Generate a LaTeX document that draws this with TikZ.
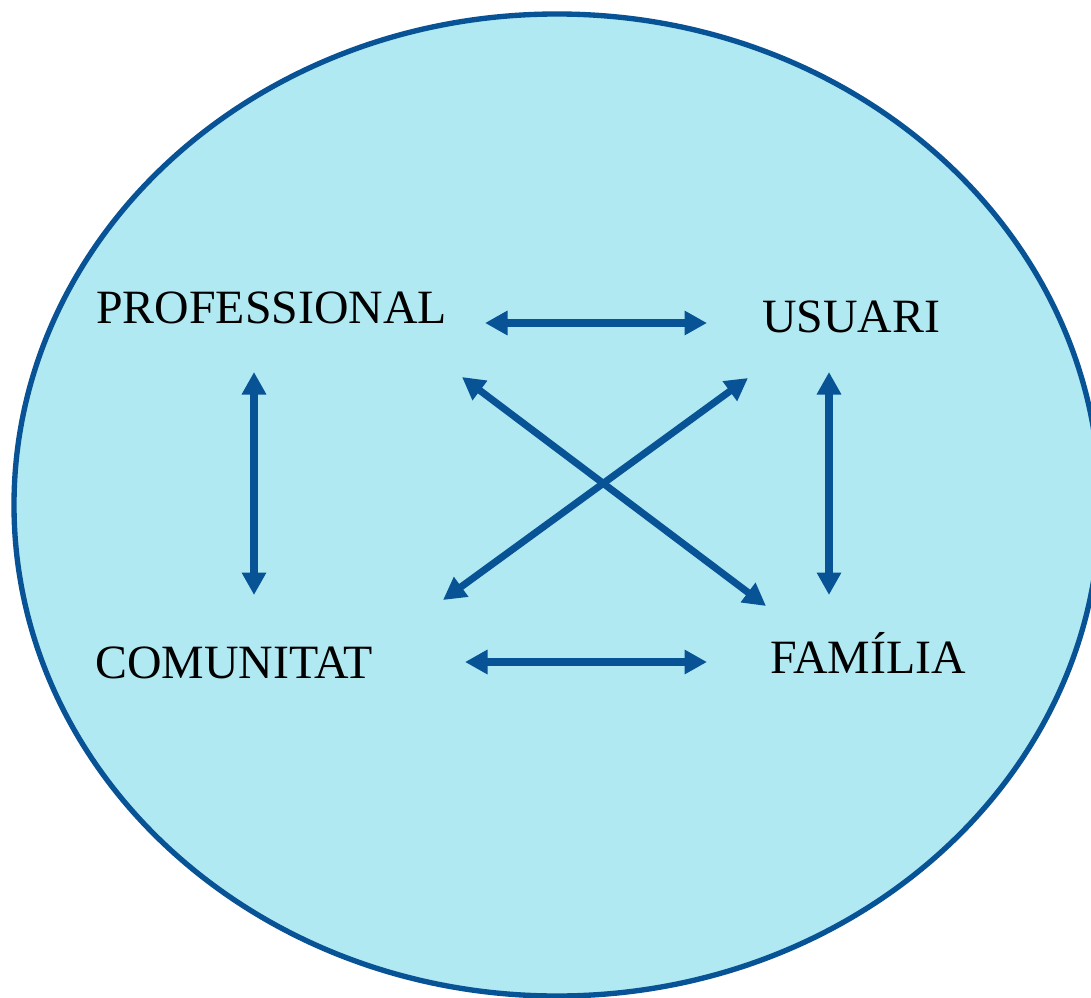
\documentclass[tikz,border=0pt]{standalone}
\usepackage{fontspec}
\setmainfont{Liberation Serif}
\usetikzlibrary{arrows.meta}
\definecolor{bubble}{RGB}{177,233,242}
\definecolor{linkblue}{RGB}{8,82,150}
\tikzset{
  role/.style={anchor=base west, inner sep=0pt, font=\fontsize{34}{40}\selectfont},
  link/.style={linkblue, line width=5pt, {Triangle[length=16pt,width=16.5pt]}-{Triangle[length=16pt,width=16.5pt]}}
}
\begin{document}
\begin{tikzpicture}[x=0.025cm, y=-0.025cm]
    \useasboundingbox (0,0) rectangle (1091,998);
    \clip (0,0) rectangle (1091,998);
    \draw[linkblue, line width=3.8pt, fill=bubble] (557,505) ellipse (543 and 491);

    \node[role] (prof) at (96,323) {PROFESSIONAL};
    \node[role] (usu) at (762,332) {USUARI};
    \node[role] (com) at (95,678) {COMUNITAT};
    \node[role] (fam) at (770,673) {FAMÍLIA};

    \coordinate (prof-r) at (485,323);
    \coordinate (usu-l) at (707,323);
    \coordinate (com-r) at (465,662);
    \coordinate (fam-l) at (707,662);
    \coordinate (prof-d) at (254,372);
    \coordinate (com-u) at (254,595);
    \coordinate (usu-d) at (829,372);
    \coordinate (fam-u) at (829,595);
    \coordinate (prof-x) at (462,377);
    \coordinate (fam-x) at (766,606);
    \coordinate (usu-x) at (748,378);
    \coordinate (com-x) at (443,600);

    \draw[link] (prof-r) -- (usu-l);
    \draw[link] (com-r) -- (fam-l);
    \draw[link] (prof-d) -- (com-u);
    \draw[link] (usu-d) -- (fam-u);
    \draw[link] (prof-x) -- (fam-x);
    \draw[link] (usu-x) -- (com-x);
\end{tikzpicture}
\end{document}
